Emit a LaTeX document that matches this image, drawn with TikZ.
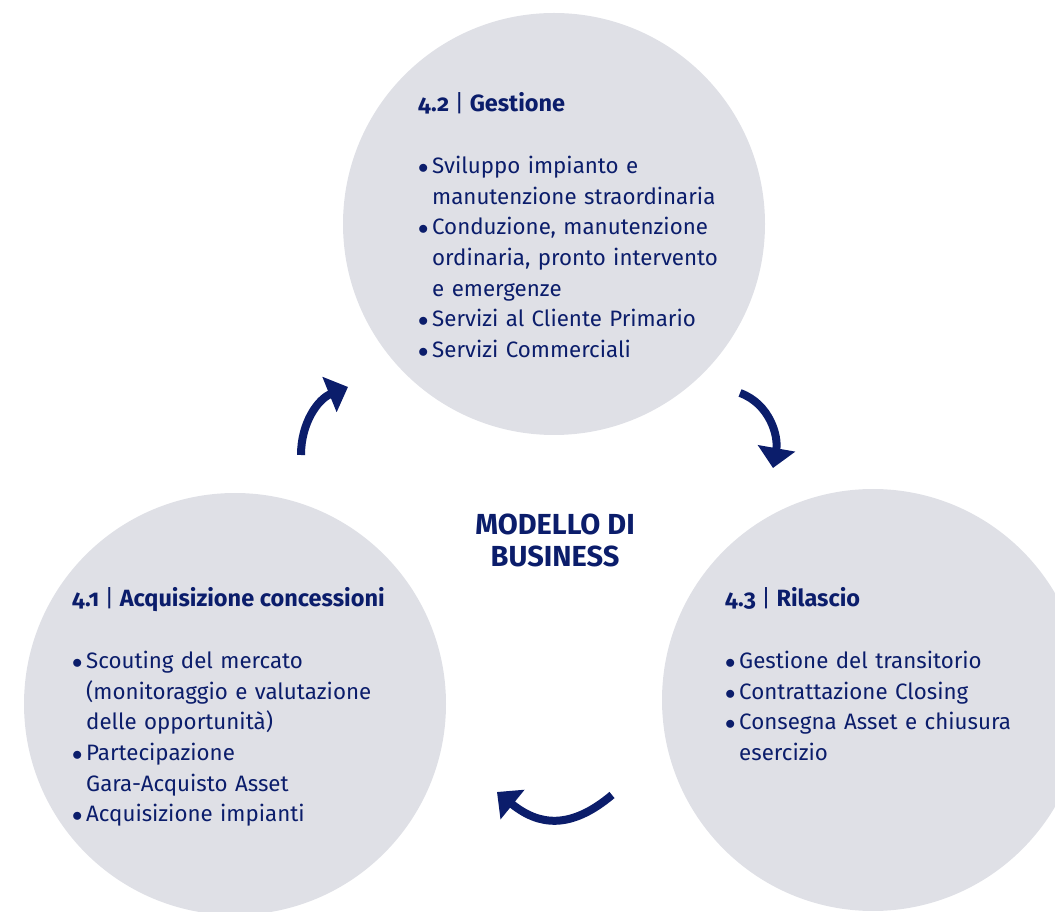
\documentclass[tikz,border=0pt]{standalone}
\usepackage{fontspec}
\setmainfont{Fira Sans}[Numbers=OldStyle]
\usetikzlibrary{arrows.meta,positioning}
\definecolor{navy}{HTML}{0B1D6B}
\definecolor{disc}{HTML}{DFE0E6}
\newcommand{\voce}[1]{\hangindent=14pt\hangafter=1\noindent\makebox[14pt][l]{$\bullet$}#1\par}

\begin{document}
\begin{tikzpicture}[
    x=1pt, y=1pt,
    phase/.style={circle, minimum size=422pt, inner sep=0pt, fill=disc},
    phasetitle/.style={anchor=base west, inner sep=0pt, text=navy, font=\fontsize{23.5}{25}\selectfont\bfseries},
    phaselist/.style={anchor=base west, inner sep=0pt, text=navy, text width=360pt, font=\fontsize{22.3}{30.7}\selectfont},
    turn/.style={line width=8pt, draw=navy, -{Triangle[length=20pt, width=37pt]}}
    ]
    \useasboundingbox (0,0) rectangle (1055,911);

    % the three phases
    \node (gest) [phase] at (554,687) {};
    \node (acq) [phase] at (235,207) {};
    \node (ril) [phase] at (873,211) {};

    \node (model) [text=navy, align=center, font=\fontsize{29}{32}\selectfont\bfseries] at (555,371) {MODELLO DI\\BUSINESS};

    % 4.2
    \node (h42) [phasetitle] at (418,799) {4.2 {\mdseries|} Gestione};
    \node (l42) [phaselist] at ([yshift=-61.5pt]h42.base west) {
      \voce{Sviluppo impianto e\newline manutenzione straordinaria}
      \voce{Conduzione, manutenzione\newline ordinaria, pronto intervento\newline e emergenze}
      \voce{Servizi al Cliente Primario}
      \voce{Servizi Commerciali}
    };

    % 4.1
    \node (h41) [phasetitle] at (72,304) {4.1 {\mdseries|} Acquisizione concessioni};
    \node (l41) [phaselist] at ([yshift=-61.5pt]h41.base west) {
      \voce{Scouting del mercato\newline (monitoraggio e valutazione\newline delle opportunità)}
      \voce{Partecipazione\newline Gara-Acquisto Asset}
      \voce{Acquisizione impianti}
    };

    % 4.3
    \node (h43) [phasetitle] at (725,304) {4.3 {\mdseries|} Rilascio};
    \node (l43) [phaselist] at ([yshift=-61.5pt]h43.base west) {
      \voce{Gestione del transitorio}
      \voce{Contrattazione Closing}
      \voce{Consegna Asset e chiusura\newline esercizio}
    };

    % cycle arrows
    \coordinate (t1s) at (301,456);
    \coordinate (t1e) at (348,524);
    \coordinate (t2s) at (740,518);
    \coordinate (t2e) at (773,443);
    \coordinate (t3s) at (612,116);
    \coordinate (t3e) at (497,119);
    \draw [turn] (t1s) to[out=90, in=202] (t1e);
    \draw [turn] (t2s) to[out=-20, in=80] (t2e);
    \draw [turn] (t3s) to[out=-140, in=-39, looseness=1.2] (t3e);
\end{tikzpicture}
\end{document}
